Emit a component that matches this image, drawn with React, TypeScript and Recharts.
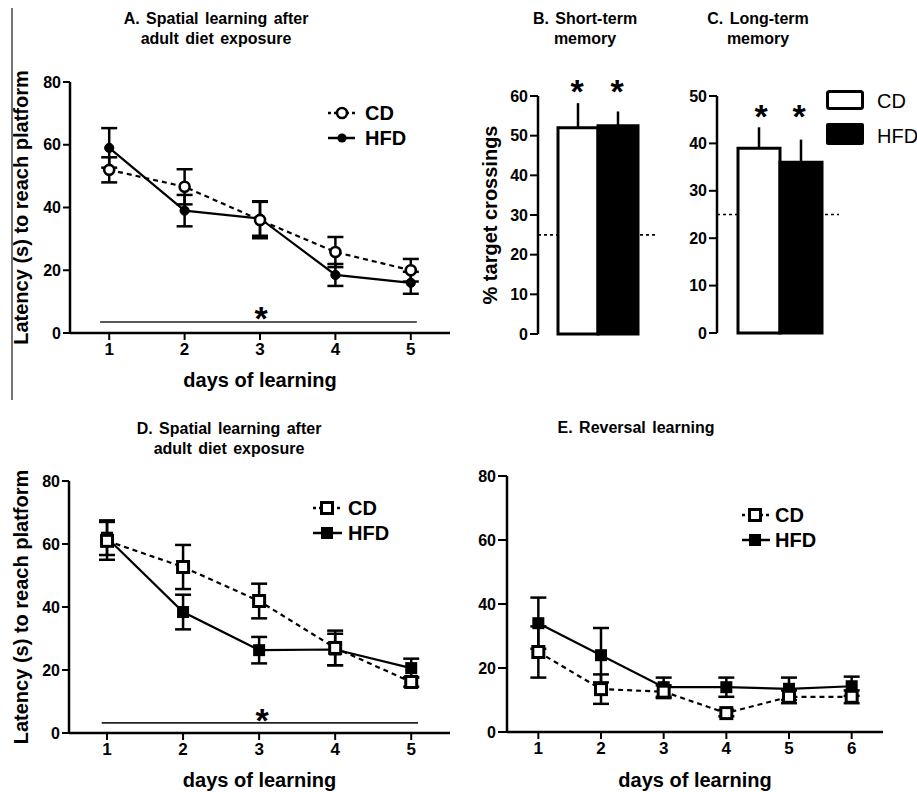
import React from 'react';
import { LineChart, Line, XAxis, YAxis, ErrorBar, ReferenceLine, BarChart, Bar, Cell } from 'recharts';

const FONT = '"Liberation Sans", Arial, Helvetica, sans-serif';

// Panel A: spatial learning after adult diet exposure (latency, s)
const DAYS_A = [1, 2, 3, 4, 5];
const A_CD = [52, 46.6, 36, 25.8, 20];
const A_CD_ERR = [4, 5.6, 5.8, 4.8, 3.6];
const A_HFD = [59, 39, 36.5, 18.5, 16];
const A_HFD_ERR = [6.3, 5, 5.5, 3.5, 3.5];

// Panels B / C: % target crossings
const GROUPS = ['CD', 'HFD'];
const B_VALUES = [52, 52.5];
const B_ERR = [6.2, 3.6];
const C_VALUES = [39, 36];
const C_ERR = [4.4, 4.8];
const CHANCE = 25;

// Panel D
const DAYS_D = [1, 2, 3, 4, 5];
const D_CD = [61, 52.7, 41.9, 27, 16.2];
const D_CD_ERR = [6, 7, 5.5, 5.5, 1.5];
const D_HFD = [62, 38.4, 26.3, 26.5, 20.6];
const D_HFD_ERR = [5.5, 5.5, 4.2, 5, 3];

// Panel E: reversal learning
const DAYS_E = [1, 2, 3, 4, 5, 6];
const E_CD = [25, 13.4, 12.6, 5.9, 11, 11];
const E_CD_ERR = [8, 4.6, 2, 1, 2, 2];
const E_HFD = [34, 24, 14, 14, 13.5, 14.3];
const E_HFD_ERR = [8, 8.5, 3, 3, 3.5, 3];

const LATENCY_TICKS = [0, 20, 40, 60, 80];
const B_TICKS = [0, 10, 20, 30, 40, 50, 60];
const C_TICKS = [0, 10, 20, 30, 40, 50];

const buildLine = (days: number[], cd: number[], cdErr: number[], hfd: number[], hfdErr: number[]) =>
  days.map((d, i) => ({ day: d, cd: cd[i], cdErr: cdErr[i], hfd: hfd[i], hfdErr: hfdErr[i] }));

const buildBar = (vals: number[], errs: number[]) =>
  GROUPS.map((g, i) => ({ name: g, v: vals[i], err: [0, errs[i]] }));

const dataA = buildLine(DAYS_A, A_CD, A_CD_ERR, A_HFD, A_HFD_ERR);
const dataD = buildLine(DAYS_D, D_CD, D_CD_ERR, D_HFD, D_HFD_ERR);
const dataE = buildLine(DAYS_E, E_CD, E_CD_ERR, E_HFD, E_HFD_ERR);
const dataB = buildBar(B_VALUES, B_ERR);
const dataC = buildBar(C_VALUES, C_ERR);

const openCircle = (p: any) =>
  p.cx == null ? <g key={`e${p.index}`} /> : (
    <circle key={`oc${p.index}`} cx={p.cx} cy={p.cy} r={5} fill="#fff" stroke="#000" strokeWidth={2.6} />
  );
const filledCircle = (p: any) =>
  p.cx == null ? <g key={`e${p.index}`} /> : (
    <circle key={`fc${p.index}`} cx={p.cx} cy={p.cy} r={4.6} fill="#000" stroke="#000" strokeWidth={1} />
  );
const openSquare = (p: any) =>
  p.cx == null ? <g key={`e${p.index}`} /> : (
    <rect key={`os${p.index}`} x={p.cx - 5.5} y={p.cy - 5.5} width={11} height={11} fill="#fff" stroke="#000" strokeWidth={3} />
  );
const filledSquare = (p: any) =>
  p.cx == null ? <g key={`e${p.index}`} /> : (
    <rect key={`fs${p.index}`} x={p.cx - 6} y={p.cy - 6} width={12} height={12} fill="#000" />
  );

const xTick = { fill: '#000', fontSize: 17, fontWeight: 700, fontFamily: FONT };
const yTick = { fill: '#000', fontSize: 16, fontWeight: 700, fontFamily: FONT };
const axisLine = { stroke: '#000', strokeWidth: 2.5 };
const tickLine = { stroke: '#000', strokeWidth: 2 };
const labelStyle = { fontSize: 20, fontWeight: 700, fill: '#000', fontFamily: FONT, textAnchor: 'middle' as const };

type LineProps = {
  left: number; top: number; width: number; height: number;
  margin: { top: number; right: number; bottom: number; left: number };
  yWidth: number; data: any[]; xDomain: [number, number]; xTicks: number[];
  square: boolean; yLabel?: string; sig?: [number, number, number]; xLabelOffset: number; yTickSize: number;
};

function LinePanel(p: LineProps) {
  return (
    <div style={{ position: 'absolute', left: p.left, top: p.top }}>
      <LineChart width={p.width} height={p.height} data={p.data} margin={p.margin}>
        <XAxis
          dataKey="day" type="number" domain={p.xDomain} ticks={p.xTicks} allowDataOverflow
          tick={xTick} tickLine={tickLine} axisLine={axisLine} tickSize={7} tickMargin={3} height={30}
          label={{ value: 'days of learning', position: 'bottom', offset: p.xLabelOffset, style: labelStyle }}
        />
        <YAxis
          type="number" domain={[0, 80]} ticks={LATENCY_TICKS} width={p.yWidth}
          tick={yTick} tickLine={tickLine} axisLine={axisLine} tickSize={p.yTickSize} tickMargin={2}
          label={p.yLabel ? { value: p.yLabel, angle: -90, position: 'insideLeft', offset: 21, style: labelStyle } : undefined}
        />
        {p.sig && (
          <ReferenceLine
            segment={[{ x: p.sig[0], y: p.sig[2] }, { x: p.sig[1], y: p.sig[2] }]}
            stroke="#222" strokeWidth={1.6}
          />
        )}
        <Line dataKey="hfd" stroke="#000" strokeWidth={2.2} dot={p.square ? filledSquare : filledCircle} activeDot={false} isAnimationActive={false}>
          <ErrorBar dataKey="hfdErr" width={8} strokeWidth={2.5} stroke="#000" direction="y" />
        </Line>
        <Line dataKey="cd" stroke="#000" strokeWidth={2.2} strokeDasharray="5 4" dot={p.square ? openSquare : openCircle} activeDot={false} isAnimationActive={false}>
          <ErrorBar dataKey="cdErr" width={8} strokeWidth={2.5} stroke="#000" direction="y" />
        </Line>
      </LineChart>
    </div>
  );
}

type BarProps = {
  left: number; top: number; width: number; height: number;
  margin: { top: number; right: number; bottom: number; left: number };
  yWidth: number; data: any[]; domain: [number, number]; ticks: number[];
  padding: { left: number; right: number }; yLabel?: string;
};

function BarPanel(p: BarProps) {
  return (
    <div style={{ position: 'absolute', left: p.left, top: p.top }}>
      <BarChart width={p.width} height={p.height} data={p.data} margin={p.margin} barCategoryGap={0} barGap={0}>
        <XAxis dataKey="name" type="category" hide padding={p.padding} />
        <YAxis
          type="number" domain={p.domain} ticks={p.ticks} width={p.yWidth}
          tick={yTick} tickLine={tickLine} axisLine={axisLine} tickSize={8} tickMargin={2}
          label={p.yLabel ? { value: p.yLabel, angle: -90, position: 'insideLeft', offset: 30, style: labelStyle } : undefined}
        />
        <ReferenceLine y={CHANCE} stroke="#000" strokeWidth={1.6} strokeDasharray="3 3" zIndex={-10} />
        <Bar dataKey="v" stroke="#000" strokeWidth={3} isAnimationActive={false}>
          {p.data.map((d, i) => (
            <Cell key={`c${i}`} fill={i === 0 ? '#fff' : '#000'} />
          ))}
          <ErrorBar dataKey="err" width={0} strokeWidth={2.5} stroke="#000" direction="y" />
        </Bar>
      </BarChart>
    </div>
  );
}

const T = { fontFamily: FONT, fontWeight: 700, fill: '#000' } as const;

function Overlay() {
  const ast = (x: number, cy: number, k: string) => (
    <text key={k} x={x} y={cy + 19.5} textAnchor="middle" fontSize={34} {...T}>*</text>
  );
  return (
    <svg width={917} height={792} style={{ position: 'absolute', left: 0, top: 0, pointerEvents: 'none' }}>
      <line x1={12} y1={8} x2={12} y2={400} stroke="#444" strokeWidth={1.5} />
      {/* titles */}
      <g fontSize={16} wordSpacing={2} textAnchor="middle" {...T}>
        <text x={216} y={24}>A. Spatial learning after</text>
        <text x={216} y={44}>adult diet exposure</text>
        <text x={585} y={24}>B. Short-term</text>
        <text x={585} y={44}>memory</text>
        <text x={758} y={24}>C. Long-term</text>
        <text x={758} y={44}>memory</text>
        <text x={229} y={434}>D. Spatial learning after</text>
        <text x={229} y={454}>adult diet exposure</text>
        <text x={636} y={433}>E. Reversal learning</text>
      </g>
      {/* asterisks */}
      {ast(261, 310, 'a1')}
      {ast(262, 712, 'd1')}
      {ast(577, 83, 'b1')}
      {ast(617, 83, 'b2')}
      {ast(761, 108, 'c1')}
      {ast(799, 108, 'c2')}
      {/* legend A */}
      <line x1={328} y1={113} x2={355} y2={113} stroke="#000" strokeWidth={2.5} strokeDasharray="3 3" />
      <circle cx={342} cy={113} r={5} fill="#fff" stroke="#000" strokeWidth={2.6} />
      <text x={365} y={120} fontSize={20} {...T}>CD</text>
      <line x1={328} y1={138} x2={355} y2={138} stroke="#000" strokeWidth={2.5} />
      <circle cx={342} cy={138} r={4.6} fill="#000" />
      <text x={365} y={145} fontSize={20} {...T}>HFD</text>
      {/* legend D */}
      <line x1={313} y1={508} x2={342} y2={508} stroke="#000" strokeWidth={2.5} strokeDasharray="3 3" />
      <rect x={321.5} y={502.5} width={11} height={11} fill="#fff" stroke="#000" strokeWidth={3} />
      <text x={348} y={515} fontSize={20} {...T}>CD</text>
      <line x1={313} y1={533} x2={342} y2={533} stroke="#000" strokeWidth={2.5} />
      <rect x={321} y={527} width={12} height={12} fill="#000" />
      <text x={348} y={540} fontSize={20} {...T}>HFD</text>
      {/* legend E */}
      <line x1={742} y1={515} x2={770} y2={515} stroke="#000" strokeWidth={2.5} strokeDasharray="3 3" />
      <rect x={749.5} y={509.5} width={11} height={11} fill="#fff" stroke="#000" strokeWidth={3} />
      <text x={775} y={522} fontSize={20} {...T}>CD</text>
      <line x1={742} y1={540} x2={770} y2={540} stroke="#000" strokeWidth={2.5} />
      <rect x={749} y={534} width={12} height={12} fill="#000" />
      <text x={775} y={547} fontSize={20} {...T}>HFD</text>
      {/* legend B/C */}
      <rect x={827.5} y={91.5} width={35} height={17} rx={2} fill="#fff" stroke="#000" strokeWidth={3} />
      <text x={877} y={108} fontSize={20} fontFamily={FONT} fill="#000">CD</text>
      <rect x={826} y={123} width={38} height={22} rx={2} fill="#000" />
      <text x={877} y={143} fontSize={20} fontFamily={FONT} fill="#000">HFD</text>
    </svg>
  );
}

export default function App() {
  return (
    <div style={{ position: 'absolute', left: 0, top: 0, width: 917, height: 792, background: '#fff', overflow: 'hidden', fontFamily: FONT }}>
      <LinePanel
        left={0} top={0} width={460} height={400}
        margin={{ top: 82, right: 10, bottom: 37, left: 0 }} yWidth={70}
        data={dataA} xDomain={[0.48, 5.52]} xTicks={DAYS_A} square={false}
        yLabel="Latency (s) to reach platform" sig={[0.88, 5.08, 3.5]} xLabelOffset={10} yTickSize={7}
      />
      <BarPanel
        left={460} top={0} width={220} height={400}
        margin={{ top: 96, right: 23, bottom: 66, left: 0 }} yWidth={78}
        data={dataB} domain={[0, 60]} ticks={B_TICKS} padding={{ left: 20, right: 19 }}
        yLabel="% target crossings"
      />
      <BarPanel
        left={680} top={0} width={237} height={400}
        margin={{ top: 96, right: 78, bottom: 67, left: 0 }} yWidth={37}
        data={dataC} domain={[0, 50]} ticks={C_TICKS} padding={{ left: 21, right: 17 }}
      />
      <LinePanel
        left={0} top={400} width={460} height={392}
        margin={{ top: 81, right: 10, bottom: 29, left: 0 }} yWidth={69}
        data={dataD} xDomain={[0.5, 5.51]} xTicks={DAYS_D} square={true}
        yLabel="Latency (s) to reach platform" sig={[0.93, 5.09, 3.2]} xLabelOffset={10} yTickSize={7}
      />
      <LinePanel
        left={460} top={400} width={457} height={392}
        margin={{ top: 76, right: 34, bottom: 30, left: 0 }} yWidth={47}
        data={dataE} xDomain={[0.5, 6.5]} xTicks={DAYS_E} square={true}
        xLabelOffset={11} yTickSize={9}
      />
      <Overlay />
    </div>
  );
}
